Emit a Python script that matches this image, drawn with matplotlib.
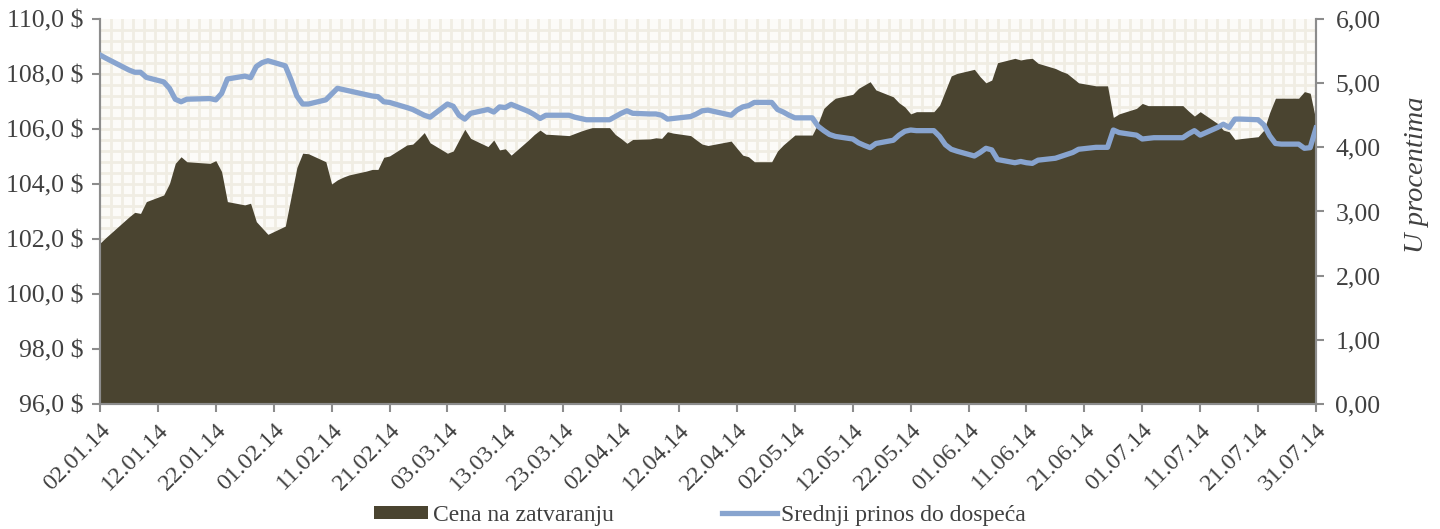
import numpy as np
import pandas as pd
import matplotlib
matplotlib.use("Agg")
import matplotlib.pyplot as plt
import matplotlib.dates as mdates
from matplotlib.patches import Patch
from matplotlib.lines import Line2D

# ---- data ----
price_dates = ["2014-01-02","2014-01-03","2014-01-07","2014-01-08","2014-01-09","2014-01-10",
    "2014-01-13","2014-01-14","2014-01-15","2014-01-16","2014-01-17","2014-01-21","2014-01-22",
    "2014-01-23","2014-01-24","2014-01-27","2014-01-28","2014-01-29","2014-01-30","2014-01-31",
    "2014-02-03","2014-02-04","2014-02-05","2014-02-06","2014-02-07","2014-02-10","2014-02-11",
    "2014-02-12","2014-02-13","2014-02-14","2014-02-17","2014-02-18","2014-02-19","2014-02-20",
    "2014-02-21","2014-02-24","2014-02-25","2014-02-26","2014-02-27","2014-02-28","2014-03-03",
    "2014-03-04","2014-03-05","2014-03-06","2014-03-07","2014-03-10","2014-03-11","2014-03-12",
    "2014-03-13","2014-03-14","2014-03-17","2014-03-18","2014-03-19","2014-03-20","2014-03-21",
    "2014-03-24","2014-03-25","2014-03-26","2014-03-27","2014-03-28","2014-03-31","2014-04-01",
    "2014-04-02","2014-04-03","2014-04-04","2014-04-07","2014-04-08","2014-04-09","2014-04-10",
    "2014-04-11","2014-04-14","2014-04-15","2014-04-16","2014-04-17","2014-04-21","2014-04-22",
    "2014-04-23","2014-04-24","2014-04-25","2014-04-28","2014-04-29","2014-04-30","2014-05-01",
    "2014-05-02","2014-05-05","2014-05-06","2014-05-07","2014-05-08","2014-05-09","2014-05-12",
    "2014-05-13","2014-05-14","2014-05-15","2014-05-16","2014-05-19","2014-05-20","2014-05-21",
    "2014-05-22","2014-05-23","2014-05-26","2014-05-27","2014-05-28","2014-05-29","2014-05-30",
    "2014-06-02","2014-06-03","2014-06-04","2014-06-05","2014-06-06","2014-06-09","2014-06-10",
    "2014-06-11","2014-06-12","2014-06-13","2014-06-16","2014-06-17","2014-06-18","2014-06-19",
    "2014-06-20","2014-06-23","2014-06-24","2014-06-25","2014-06-26","2014-06-27","2014-06-30",
    "2014-07-01","2014-07-02","2014-07-03","2014-07-07","2014-07-08","2014-07-09","2014-07-10",
    "2014-07-11","2014-07-14","2014-07-15","2014-07-16","2014-07-17","2014-07-18","2014-07-21",
    "2014-07-22","2014-07-23","2014-07-24","2014-07-25","2014-07-28","2014-07-29","2014-07-30",
    "2014-07-31"]
price_values = [101.85,102.05,102.80,102.97,102.93,103.36,
    103.60,104.02,104.75,104.99,104.81,104.75,104.85,
    104.45,103.36,103.24,103.30,102.63,102.40,102.17,
    102.47,103.54,104.60,105.12,105.10,104.81,104.00,
    104.15,104.25,104.33,104.47,104.53,104.53,104.97,
    105.02,105.42,105.45,105.65,105.87,105.50,105.12,
    105.20,105.60,105.99,105.66,105.36,105.60,105.24,
    105.28,105.05,105.60,105.80,105.96,105.81,105.80,
    105.76,105.84,105.92,105.99,106.05,106.05,105.80,
    105.65,105.48,105.62,105.64,105.68,105.66,105.90,
    105.85,105.76,105.60,105.45,105.40,105.56,105.30,
    105.05,104.99,104.81,104.81,105.20,105.42,105.60,
    105.78,105.78,106.20,106.75,106.95,107.12,107.26,
    107.48,107.60,107.72,107.42,107.17,106.95,106.80,
    106.55,106.63,106.63,106.87,107.40,107.93,108.02,
    108.17,107.90,107.68,107.78,108.41,108.57,108.51,
    108.55,108.57,108.39,108.20,108.10,108.02,107.85,
    107.68,107.57,107.57,107.57,106.42,106.55,106.75,
    106.93,106.85,106.85,106.85,106.85,106.65,106.47,
    106.63,106.20,105.96,105.90,105.62,105.65,105.72,
    105.96,106.60,107.12,107.12,107.12,107.36,107.30,
    106.30]

yield_dates = ["2014-01-02","2014-01-03","2014-01-06","2014-01-07","2014-01-08","2014-01-09",
    "2014-01-10","2014-01-13","2014-01-14","2014-01-15","2014-01-16","2014-01-17","2014-01-21",
    "2014-01-22","2014-01-23","2014-01-24","2014-01-27","2014-01-28","2014-01-29","2014-01-30",
    "2014-01-31","2014-02-03","2014-02-04","2014-02-05","2014-02-06","2014-02-07","2014-02-10",
    "2014-02-11","2014-02-12","2014-02-17","2014-02-18","2014-02-19","2014-02-20","2014-02-21",
    "2014-02-24","2014-02-25","2014-02-27","2014-02-28","2014-03-03","2014-03-04","2014-03-05",
    "2014-03-06","2014-03-07","2014-03-10","2014-03-11","2014-03-12","2014-03-13","2014-03-14",
    "2014-03-17","2014-03-18","2014-03-19","2014-03-20","2014-03-21","2014-03-24","2014-03-25",
    "2014-03-27","2014-03-28","2014-03-31","2014-04-01","2014-04-02","2014-04-03","2014-04-04",
    "2014-04-07","2014-04-08","2014-04-09","2014-04-10","2014-04-11","2014-04-14","2014-04-15",
    "2014-04-16","2014-04-17","2014-04-21","2014-04-22","2014-04-23","2014-04-24","2014-04-25",
    "2014-04-28","2014-04-29","2014-04-30","2014-05-01","2014-05-02","2014-05-05","2014-05-06",
    "2014-05-07","2014-05-08","2014-05-09","2014-05-12","2014-05-13","2014-05-14","2014-05-15",
    "2014-05-16","2014-05-19","2014-05-20","2014-05-21","2014-05-22","2014-05-23","2014-05-26",
    "2014-05-27","2014-05-28","2014-05-29","2014-05-30","2014-06-02","2014-06-03","2014-06-04",
    "2014-06-05","2014-06-06","2014-06-09","2014-06-10","2014-06-11","2014-06-12","2014-06-13",
    "2014-06-16","2014-06-17","2014-06-18","2014-06-19","2014-06-20","2014-06-23","2014-06-24",
    "2014-06-25","2014-06-26","2014-06-27","2014-06-30","2014-07-01","2014-07-02","2014-07-03",
    "2014-07-07","2014-07-08","2014-07-09","2014-07-10","2014-07-11","2014-07-14","2014-07-15",
    "2014-07-16","2014-07-17","2014-07-18","2014-07-21","2014-07-22","2014-07-23","2014-07-24",
    "2014-07-25","2014-07-28","2014-07-29","2014-07-30","2014-07-31"]
yield_values = [5.44,5.39,5.25,5.205,5.17,5.17,
    5.09,5.02,4.92,4.75,4.71,4.75,4.76,
    4.74,4.84,5.065,5.11,5.085,5.26,5.32,
    5.35,5.27,5.05,4.80,4.675,4.675,4.74,
    4.83,4.92,4.82,4.80,4.79,4.71,4.70,
    4.62,4.59,4.50,4.47,4.675,4.64,4.50,
    4.44,4.53,4.59,4.55,4.63,4.62,4.67,
    4.56,4.51,4.45,4.50,4.50,4.50,4.47,
    4.43,4.43,4.43,4.48,4.53,4.57,4.53,
    4.52,4.52,4.50,4.44,4.45,4.48,4.52,
    4.57,4.58,4.50,4.58,4.63,4.65,4.70,
    4.70,4.59,4.55,4.50,4.46,4.46,4.33,
    4.26,4.20,4.17,4.13,4.07,4.03,3.995,
    4.06,4.11,4.19,4.25,4.27,4.26,4.26,
    4.17,4.04,3.97,3.94,3.865,3.92,3.985,
    3.96,3.81,3.76,3.78,3.76,3.75,3.80,
    3.83,3.86,3.89,3.92,3.97,4.00,4.00,
    4.00,4.27,4.23,4.19,4.13,4.14,4.15,
    4.15,4.15,4.21,4.26,4.19,4.31,4.36,
    4.31,4.44,4.44,4.43,4.35,4.18,4.06,
    4.05,4.05,3.985,3.995,4.30]

price_label = "Cena na zatvaranju"
yield_label = "Srednji prinos do dospeća"
right_axis_label = "U procentima"
x_start, x_end = "2014-01-02", "2014-07-31"
tick_step_days = 10

# ---- styling ----
AREA = "#4A4430"
LINE = "#88A4CF"
TXT = "#404040"
SPINE = "#8C8C8C"
plt.rcParams["font.family"] = ["Liberation Serif", "DejaVu Serif"]
FS_Y = 18.5
FS_X = 17.5
FS_LEG = 17
FS_LAB = 20.5

fig = plt.figure(figsize=(14.4, 5.29), dpi=100)
ax = fig.add_axes([100/1440, 1 - 404/529, 1216/1440, 385/529])
ax2 = ax.twinx()

pd_dates = pd.to_datetime(price_dates)
yd_dates = pd.to_datetime(yield_dates)
x0, x1 = pd.Timestamp(x_start), pd.Timestamp(x_end)

# background grid pattern
ax.set_facecolor("#FCFBF8")
nv, nh = 111, 35
for xf in np.linspace(0, 1, nv + 1)[1:]:
    ax.axvline(mdates.date2num(x0) + xf * (mdates.date2num(x1) - mdates.date2num(x0)),
               color="#F0EDE3", lw=2.0, zorder=0)
for yf in np.linspace(96, 110, nh + 1)[1:-1]:
    ax.axhline(yf, color="#F0EDE3", lw=2.0, zorder=0)

ax.fill_between(pd_dates, 96, price_values, color=AREA, lw=0, zorder=2)
ax.set_ylim(96, 110)
ax.set_xlim(x0, x1)
ax.set_yticks(np.arange(96, 110.1, 2))
ax.set_yticklabels([f"{v:.1f}".replace(".", ",") + " $" for v in np.arange(96, 110.1, 2)])

ax2.plot(yd_dates, yield_values, color=LINE, lw=3.8, solid_joinstyle="round", zorder=3)
ax2.set_ylim(0, 6)
ax2.set_yticks(np.arange(0, 6.01, 1))
ax2.set_yticklabels([f"{v:.2f}".replace(".", ",") for v in np.arange(0, 6.01, 1)])
ax2.set_ylabel(right_axis_label, fontsize=FS_LAB, color=TXT, style="italic")
ax2.yaxis.set_label_coords((1404 - 100) / 1216, (404 - 175) / 385)

ticks = pd.date_range(x0, x1, freq=f"{tick_step_days}D")
ax.set_xticks(ticks)
ax.set_xticklabels([t.strftime("%d.%m.%y") for t in ticks], rotation=45, ha="right",
                   va="top", rotation_mode="anchor")

for a in (ax, ax2):
    a.spines["top"].set_visible(False)
    for s in ("left", "right", "bottom"):
        a.spines[s].set_color(SPINE)
        a.spines[s].set_linewidth(1.5)
    a.tick_params(colors=SPINE, labelcolor=TXT, length=6, width=1.5)
ax.tick_params(axis="x", pad=5, labelsize=FS_X)
ax.tick_params(axis="y", pad=6, labelsize=FS_Y)
ax2.tick_params(axis="y", pad=8, labelsize=FS_Y)
ax.set_zorder(1)
ax2.set_zorder(2)
ax2.patch.set_visible(False)

handles = [Patch(facecolor=AREA, edgecolor="none"), Line2D([], [], color=LINE, lw=3.8)]
fig.legend(handles, [price_label, yield_label], loc="lower center", ncol=2,
           bbox_to_anchor=(700/1440, -0.034), frameon=False, fontsize=FS_LEG,
           handlelength=2.3, handleheight=0.45, handletextpad=0.2, columnspacing=4.6,
           labelcolor=TXT)

fig.savefig("out.png", dpi=100)
